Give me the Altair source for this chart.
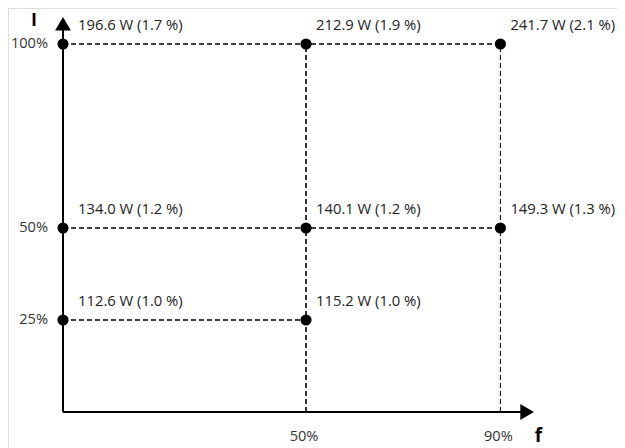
import altair as alt
import pandas as pd

# data
f_levels = [0, 50, 90, 0, 50, 90, 0, 50]
i_levels = [100, 100, 100, 50, 50, 50, 25, 25]
power_w = [196.6, 212.9, 241.7, 134.0, 140.1, 149.3, 112.6, 115.2]
loss_pct = [1.7, 1.9, 2.1, 1.2, 1.2, 1.3, 1.0, 1.0]
x_ticks = [50, 90]
y_ticks = [25, 50, 100]

pts = pd.DataFrame({"f": f_levels, "I": i_levels, "P": power_w, "L": loss_pct})
pts["label"] = [f"{p:.1f} W ({l:.1f} %)" for p, l in zip(power_w, loss_pct)]

# dashed guide lines derived from the data
h = pts.groupby("I")["f"].max().reset_index().rename(columns={"f": "f2"})
h["f"] = 0
v = pts[pts["f"] > 0].groupby("f")["I"].max().reset_index().rename(columns={"I": "I2"})
v["I"] = 0

W, H = 609, 440
# pixel mapping: f=0 -> 55, 1% f = 4.86 px ; I=0 -> 404, 1% I = 3.68 px
x0, kx = 55, 4.86
y0, ky = 404, 3.68
xdom = [-x0 / kx, (W - x0) / kx]
ydom = [(y0 - H) / ky, y0 / ky]
xs = alt.Scale(domain=xdom, nice=False, zero=False)
ys = alt.Scale(domain=ydom, nice=False, zero=False)
X = lambda f: alt.X(f, type="quantitative", scale=xs, axis=None)
Y = lambda f: alt.Y(f, type="quantitative", scale=ys, axis=None)

FONT = "Open Sans"
FS = 14.8
TFS = 14.6

hl = alt.Chart(h).mark_rule(strokeDash=[5, 3], strokeWidth=1.6, color="black").encode(
    x=X("f"), x2="f2", y=Y("I"))
vl = alt.Chart(v).mark_rule(strokeDash=[5, 3], color="black").encode(
    x=X("f"), y=Y("I"), y2="I2",
    strokeWidth=alt.condition(alt.datum.f < 80, alt.value(1.6), alt.value(1)))

ax_df = pd.DataFrame({"a": [0], "x_end": [95.5], "y_end": [105.5]})
xaxis = alt.Chart(ax_df).mark_rule(strokeWidth=2, color="black").encode(
    x=X("a"), x2="x_end", y=Y("a"))
yaxis = alt.Chart(ax_df).mark_rule(strokeWidth=2, color="black").encode(
    x=X("a"), y=Y("a"), y2="y_end")
arrx = alt.Chart(ax_df).mark_point(shape="triangle-right", size=250, filled=True, color="black", opacity=1).encode(
    x=X("x_end"), y=Y("a"))
arry = alt.Chart(ax_df).mark_point(shape="triangle-up", size=250, filled=True, color="black", opacity=1).encode(
    x=X("a"), y=Y("y_end"))

dots = alt.Chart(pts).mark_circle(size=125, color="black", opacity=1).encode(x=X("f"), y=Y("I"))
lab_left = alt.Chart(pts[pts["f"] == 0]).mark_text(
    align="left", baseline="middle", dx=15, dy=-18, font=FONT, fontSize=FS, color="#222"
).encode(x=X("f"), y=Y("I"), text="label")
lab_rest = alt.Chart(pts[pts["f"] > 0]).mark_text(
    align="left", baseline="middle", dx=10, dy=-18, font=FONT, fontSize=FS, color="#222"
).encode(x=X("f"), y=Y("I"), text="label")

xt = pd.DataFrame({"f": x_ticks, "z": [0] * len(x_ticks), "t": [f"{t}%" for t in x_ticks]})
yt = pd.DataFrame({"I": y_ticks, "z": [0] * len(y_ticks), "t": [f"{t}%" for t in y_ticks]})
xlab = alt.Chart(xt).mark_text(align="center", baseline="middle", dx=-2, dy=25, font=FONT, fontSize=TFS,
                               color="#333").encode(x=X("f"), y=Y("z"), text="t")
ylab = alt.Chart(yt).mark_text(align="right", baseline="middle", dx=-15, font=FONT, fontSize=TFS,
                               color="#333").encode(x=X("z"), y=Y("I"), text="t")

nm = pd.DataFrame({"x": [0, 97], "y": [105.5, 0], "t": ["I", "f"]})
name_i = alt.Chart(nm.iloc[[0]]).mark_text(align="center", baseline="middle", dx=-29, dy=-3, font=FONT, fontSize=18,
                                           fontWeight="bold", color="black").encode(x=X("x"), y=Y("y"), text="t")
name_f = alt.Chart(nm.iloc[[1]]).mark_text(align="center", baseline="middle", dx=4, dy=24, font=FONT, fontSize=19,
                                           fontWeight="bold", color="black").encode(x=X("x"), y=Y("y"), text="t")

chart = alt.layer(hl, vl, xaxis, yaxis, arrx, arry, dots, lab_left, lab_rest, xlab, ylab, name_i, name_f).properties(
    width=W, height=H, padding=0, autosize="none"
).configure_view(stroke=None).configure(background="white")

chart.save("out.html", embed_options={"renderer": "svg", "actions": False})
